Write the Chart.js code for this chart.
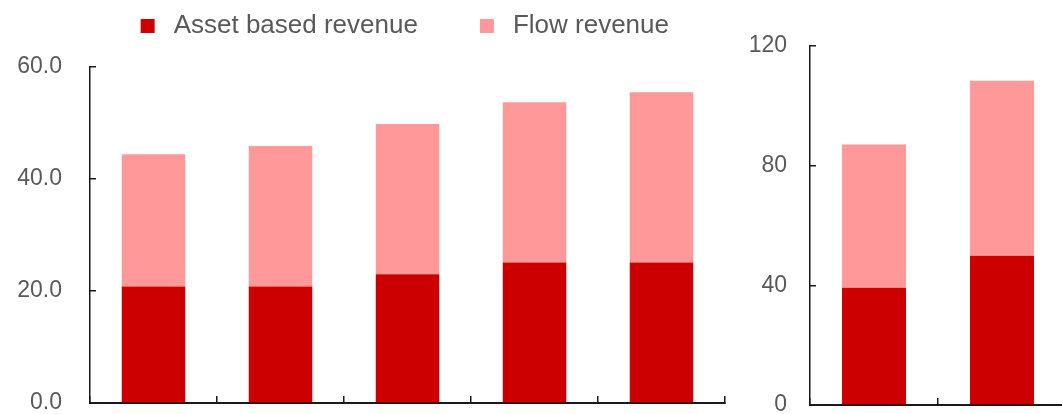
<!DOCTYPE html>
<html><head><meta charset="utf-8">
<script src="https://cdn.jsdelivr.net/npm/chart.js@4"></script>
<style>
html,body{margin:0;padding:0;width:1062px;height:414px;overflow:hidden;background:#fff;}
body{position:relative}
#wl{position:absolute;left:0;top:-43px;width:735px;height:457px}
#wr{position:absolute;left:735px;top:0;width:335px;height:414px}
</style></head><body>
<div id="wl"><canvas id="cl"></canvas></div>
<div id="wr"><canvas id="cr"></canvas></div>
<script>
// ---- data ----
const seriesNames = ['Asset based revenue', 'Flow revenue'];
const leftCategories = ['Period 1', 'Period 2', 'Period 3', 'Period 4', 'Period 5'];
const leftAssetBased = [20.8, 20.8, 23.0, 25.1, 25.1];
const leftFlow = [23.6, 25.1, 26.8, 28.6, 30.4];
const leftTicks = [0, 20, 40, 60];
const rightCategories = ['Period A', 'Period B'];
const rightAssetBased = [39.2, 49.9];
const rightFlow = [47.9, 58.5];
const rightTicks = [0, 40, 80, 120];

// ---- styles ----
const DARK = '#CC0000';
const PINK = '#FF9999';
const TEXT = '#595959';
const AXIS = '#1a1a1a';
const FONT = "'Liberation Sans', Arial, sans-serif";

function datasets(asset, flow) {
  return [
    { label: seriesNames[0], data: asset, backgroundColor: DARK, borderWidth: 0,
      categoryPercentage: 1, barPercentage: 0.5 },
    { label: seriesNames[1], data: flow, backgroundColor: PINK, borderWidth: 0,
      categoryPercentage: 1, barPercentage: 0.5 }
  ];
}

function yScale(ticks, decimals, pad, width) {
  return {
    stacked: true,
    min: ticks[0], max: ticks[ticks.length - 1],
    afterBuildTicks: s => { s.ticks = ticks.map(v => ({ value: v })); },
    afterFit: s => { s.width = width; s.paddingTop = 0; s.paddingBottom = 0; },
    grid: { drawOnChartArea: false, drawTicks: true, tickLength: -6, color: AXIS, lineWidth: 1.5 },
    border: { display: true, color: AXIS, width: 1.5 },
    ticks: { color: TEXT, font: { family: FONT, size: 23 }, padding: pad,
      callback: v => Number(v).toFixed(decimals) }
  };
}

function xScale(height) {
  return {
    stacked: true,
    afterFit: s => { s.height = height; },
    grid: { offset: true, drawOnChartArea: false, drawTicks: true, tickLength: -7, color: AXIS, lineWidth: 1.5 },
    border: { display: true, color: AXIS, width: 2 },
    ticks: { display: false }
  };
}

Chart.defaults.font.family = FONT;

new Chart(document.getElementById('cl'), {
  type: 'bar',
  data: { labels: leftCategories, datasets: datasets(leftAssetBased, leftFlow) },
  options: {
    responsive: true, maintainAspectRatio: false, animation: false,
    layout: { padding: { left: 0, right: 10, top: 0, bottom: 0 } },
    plugins: {
      tooltip: { enabled: false },
      legend: {
        display: true, position: 'top', align: 'end',
        labels: { usePointStyle: true, pointStyle: 'rect', boxWidth: 26, boxHeight: 14,
          padding: 56, color: TEXT, font: { family: FONT, size: 26 } }
      }
    },
    scales: {
      x: xScale(11),
      xTop: { type: 'category', position: 'top', display: true,
        afterFit: s => { s.height = 18; },
        grid: { display: false, drawTicks: false }, border: { display: false },
        ticks: { display: false } },
      y: yScale(leftTicks, 1, 34, 90)
    }
  }
});

new Chart(document.getElementById('cr'), {
  type: 'bar',
  data: { labels: rightCategories, datasets: datasets(rightAssetBased, rightFlow) },
  options: {
    responsive: true, maintainAspectRatio: false, animation: false,
    layout: { padding: { left: 0, right: 4, top: 46, bottom: 0 } },
    plugins: { tooltip: { enabled: false }, legend: { display: false } },
    scales: {
      x: xScale(9),
      y: yScale(rightTicks, 0, 29, 75)
    }
  }
});
</script>
</body></html>
